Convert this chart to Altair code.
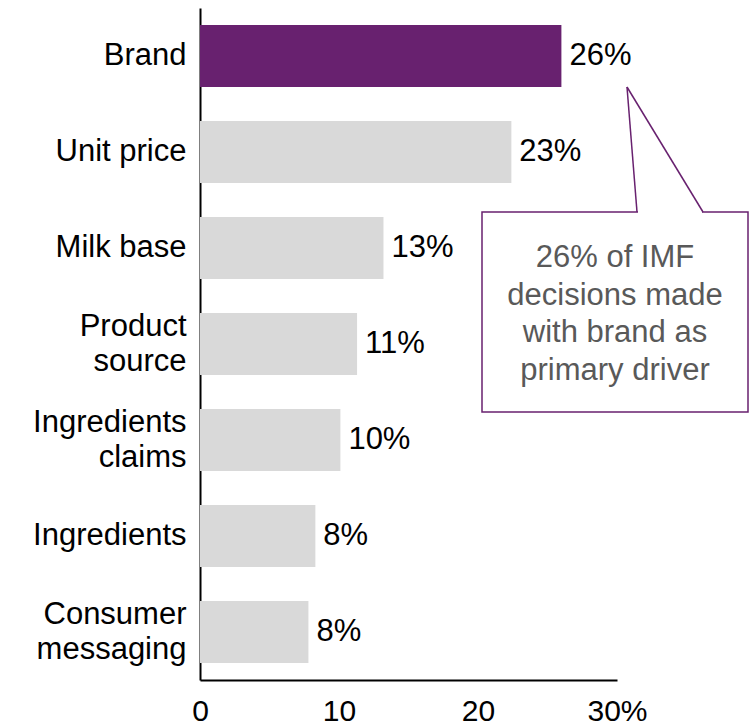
import altair as alt
import pandas as pd

categories = ["Brand", "Unit price", "Milk base", "Product|source",
              "Ingredients|claims", "Ingredients", "Consumer|messaging"]
values = [26.0, 22.4, 13.2, 11.3, 10.1, 8.3, 7.8]
labels = ["26%", "23%", "13%", "11%", "10%", "8%", "8%"]
highlight = ["yes", "no", "no", "no", "no", "no", "no"]
x_ticks = [0, 10, 20, 30]
callout_lines = ["26% of IMF", "decisions made", "with brand as", "primary driver"]

PURPLE = "#68216F"
GREY = "#D9D9D9"
FONT = "Liberation Sans"

df = pd.DataFrame({"cat": categories, "val": values, "lab": labels, "hl": highlight})
one = pd.DataFrame({"k": [0]})

y_enc = alt.Y("cat:N", sort=categories, title=None,
              scale=alt.Scale(paddingInner=0.354, paddingOuter=0.177),
              axis=alt.Axis(labelExpr="split(datum.label, '|')", labelFontSize=31,
                            labelFont=FONT, labelColor="black", labelPadding=14,
                            labelLineHeight=35, ticks=False, domainColor="black",
                            domainWidth=2, labelLimit=300,
                            labelOffset={"expr": "indexof(datum.value, '|') >= 0 ? -17.5 : 0"}))
x_enc = alt.X("val:Q", title=None,
              scale=alt.Scale(domain=[0, 30], nice=False),
              axis=alt.Axis(values=x_ticks, grid=False, ticks=False, domainColor="black",
                            domainWidth=2, labelFontSize=30, labelFont=FONT,
                            labelColor="black", labelPadding=16, labelFlush=False,
                            labelExpr="datum.value == 30 ? '30%' : datum.label"))

bars = alt.Chart(df).mark_bar().encode(
    x=x_enc, y=y_enc,
    color=alt.Color("hl:N", scale=alt.Scale(domain=["yes", "no"], range=[PURPLE, GREY]),
                    legend=None),
)
texts = alt.Chart(df).mark_text(align="left", baseline="middle", dx=8, fontSize=31,
                                font=FONT, color="black").encode(
    x="val:Q", y=alt.Y("cat:N", sort=categories), text="lab:N")

box = alt.Chart(one).mark_rect(fill="white", stroke=PURPLE, strokeWidth=1.5).encode(
    x=alt.value(282), x2=alt.value(548), y=alt.value(204), y2=alt.value(404))
gap = alt.Chart(one).mark_rule(color="white", strokeWidth=3).encode(
    x=alt.value(438), x2=alt.value(502), y=alt.value(204), y2=alt.value(204))
ptr1 = alt.Chart(one).mark_rule(color=PURPLE, strokeWidth=1.5).encode(
    x=alt.value(437), x2=alt.value(427), y=alt.value(204), y2=alt.value(79))
ptr2 = alt.Chart(one).mark_rule(color=PURPLE, strokeWidth=1.5).encode(
    x=alt.value(503), x2=alt.value(427), y=alt.value(204), y2=alt.value(79))
note = alt.Chart(pd.DataFrame({"t": ["\n".join(callout_lines)]})).mark_text(
    align="center", baseline="alphabetic", fontSize=31, font=FONT, color="#595959",
    lineBreak="\n", lineHeight=37.7).encode(
    x=alt.value(415), y=alt.value(259), text="t:N")

chart = alt.layer(bars, texts, box, gap, ptr1, ptr2, note).properties(
    width=417, height=672,
    autosize=alt.AutoSizeParams(type="none"),
    padding={"left": 200, "top": 8, "right": 134, "bottom": 45},
    background="white",
).configure_view(stroke=None)

chart.save("out.html", embed_options={"renderer": "svg", "actions": False})
